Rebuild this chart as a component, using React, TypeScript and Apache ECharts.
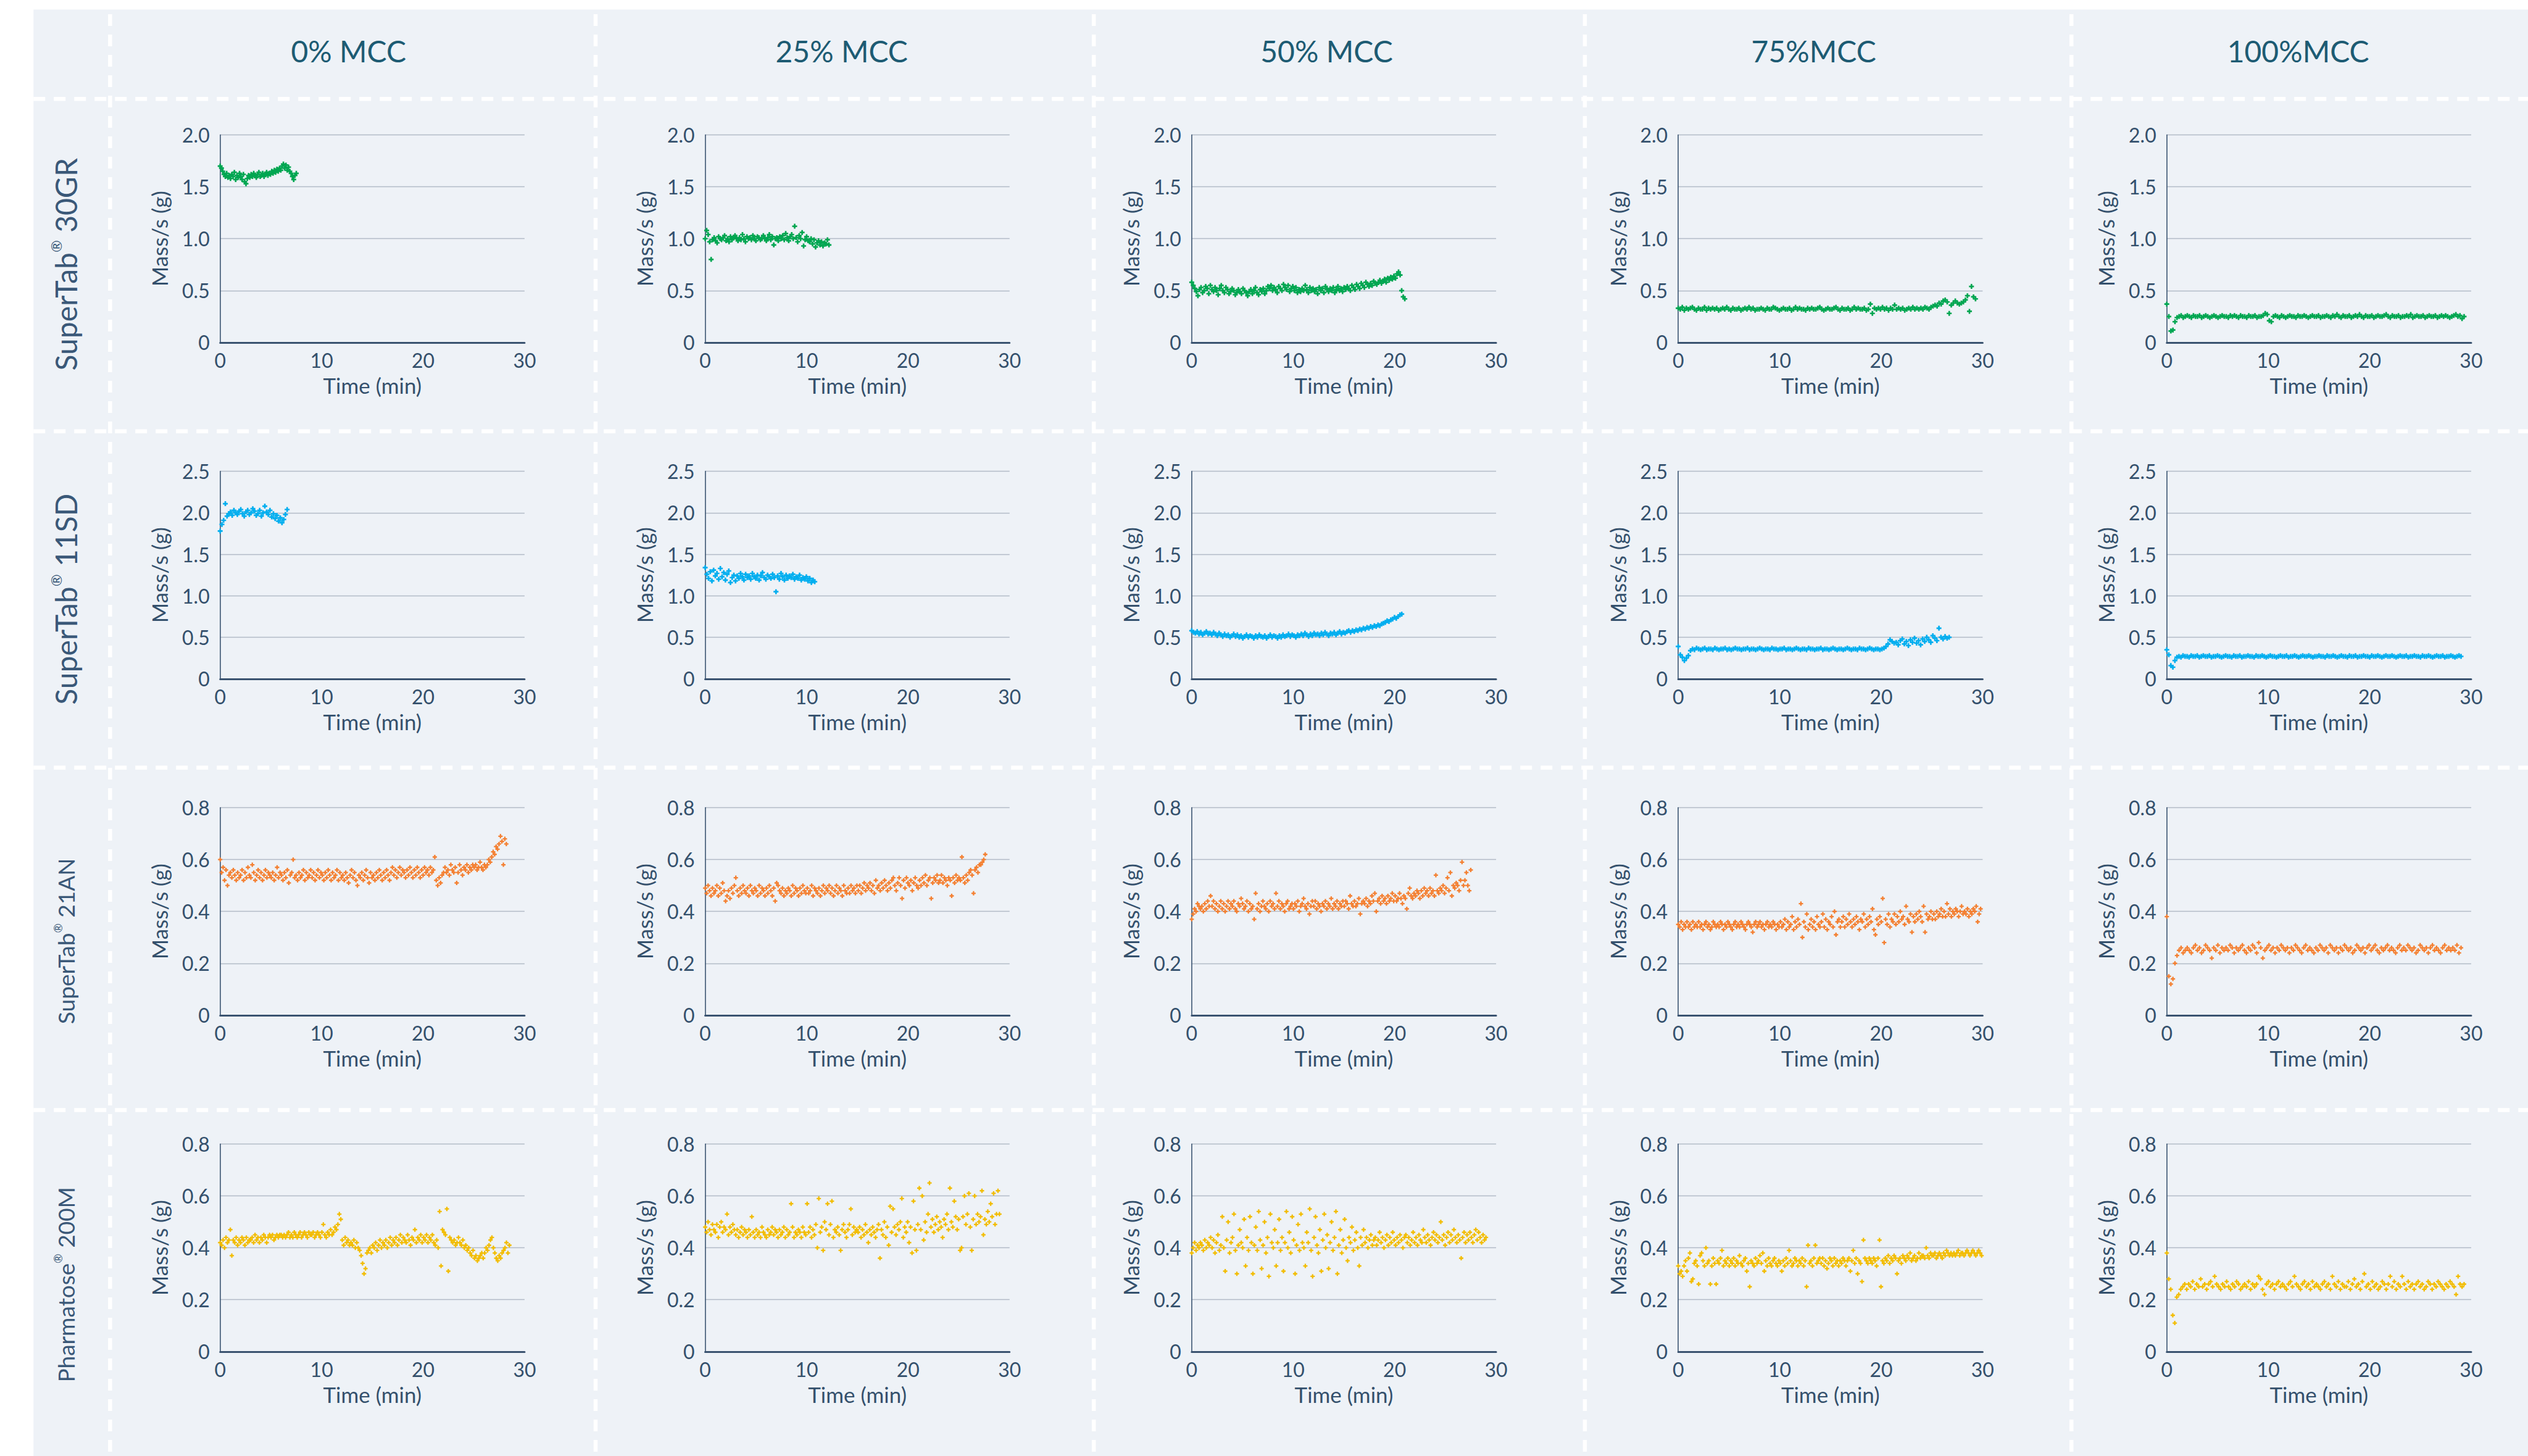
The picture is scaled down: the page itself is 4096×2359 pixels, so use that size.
import React, { useEffect, useRef } from "react";
import * as echarts from "echarts";

// ---------------- data (mass flow in hundredths of g/s, sampled evenly over each run) ----------------
const COL_HEADERS = ["0% MCC", "25% MCC", "50% MCC", "75%MCC", "100%MCC"];
const ROW_NAMES = ["SuperTab", "SuperTab", "SuperTab", "Pharmatose"];
const ROW_GRADES = ["30GR", "11SD", "21AN", "200M"];
const ROW_COLORS = ["#00a651", "#00aeef", "#f47f30", "#f2bc00"];
const Y_MAX = [2.0, 2.5, 0.8, 0.8];
const Y_STEP = [0.5, 0.5, 0.2, 0.2];
const X_MIN = 0;
const X_MAX = 30;
const X_STEP = 10;
// duration of each run (min)
const RUN_END = [
  [7.5, 12.2, 21.0, 29.3, 29.3],
  [6.6, 10.8, 20.7, 26.7, 29.0],
  [28.2, 27.6, 27.5, 29.8, 29.0],
  [28.5, 29.0, 29.0, 29.9, 29.3],
];

const r1c1 = [
  170, 168, 165, 162, 160, 163, 159, 161, 158, 162, 160, 164, 157, 161, 159, 163,
  160, 157, 162, 155, 153, 158, 161, 159, 162, 160, 163, 161, 159, 162, 164, 160,
  161, 163, 160, 162, 164, 161, 163, 162, 165, 163, 166, 164, 167, 165, 168, 166,
  170, 172, 168, 171, 166, 169, 165, 163, 160, 157, 161, 163,
];
const r1c2 = [
  100, 108, 104, 97, 80, 99, 101, 98, 96, 102, 100, 99, 101, 103, 98, 100, 97, 102, 99, 101,
  103, 100, 98, 101, 99, 104, 100, 97, 102, 100, 101, 99, 103, 100, 98, 102, 101, 99, 100, 103,
  100, 98, 101, 104, 99, 102, 94, 100, 101, 98, 102, 100, 103, 99, 105, 101, 98, 102, 104, 100,
  112, 101, 97, 103, 100, 106, 93, 99, 102, 98, 97, 100, 95, 99, 92, 96, 98, 94, 97, 93,
  96, 95, 99, 94,
];
const r1c3 = [
  58, 55, 52, 49, 45, 51, 53, 48, 50, 54, 52, 47, 55, 51, 49, 53, 50, 46, 52, 55,
  50, 48, 53, 51, 47, 49, 52, 50, 46, 48, 51, 49, 47, 52, 50, 48, 45, 49, 51, 47,
  50, 53, 48, 46, 51, 49, 52, 47, 50, 54, 52, 55, 50, 53, 51, 48, 54, 52, 50, 56,
  53, 51, 55, 49, 52, 54, 50, 53, 48, 51, 49, 52, 50, 55, 51, 48, 53, 50, 52, 49,
  51, 47, 53, 50, 52, 48, 54, 51, 49, 52, 50, 53, 48, 51, 54, 50, 52, 49, 53, 51,
  54, 52, 50, 55, 53, 51, 56, 54, 52, 57, 55, 53, 58, 56, 54, 57, 55, 59, 57, 56,
  58, 60, 57, 59, 61, 58, 62, 60, 63, 61, 64, 62, 66, 68, 65, 50, 44, 42,
];
const r1c4 = [
  33, 32, 34, 31, 33, 32, 33, 34, 32, 31, 33, 32, 32, 34, 31, 33, 32, 33, 32, 33,
  31, 32, 33, 32, 34, 32, 31, 33, 32, 32, 33, 31, 32, 33, 32, 34, 32, 33, 31, 32,
  32, 33, 32, 31, 33, 32, 32, 34, 33, 32, 31, 32, 33, 32, 32, 33, 31, 32, 34, 32,
  33, 32, 32, 31, 33, 32, 33, 32, 32, 33, 34, 32, 31, 32, 33, 32, 32, 33, 34, 32,
  31, 33, 32, 32, 33, 31, 32, 34, 32, 33, 32, 32, 33, 31, 32, 37, 28, 33, 32, 33,
  32, 34, 32, 33, 31, 33, 32, 36, 32, 33, 32, 33, 31, 32, 33, 32, 34, 32, 33, 32,
  33, 32, 34, 33, 32, 34, 35, 36, 35, 38, 37, 40, 41, 39, 28, 36, 38, 40, 38, 37,
  38, 39, 41, 45, 30, 54, 44, 42,
];
const r1c5 = [
  37, 25, 11, 12, 20, 24, 25, 26, 24, 25, 26, 25, 24, 26, 25, 25, 26, 24, 25, 26,
  25, 24, 25, 26, 25, 24, 25, 26, 25, 25, 24, 26, 25, 26, 25, 24, 26, 25, 25, 24,
  26, 25, 25, 26, 24, 25, 25, 26, 28, 27, 21, 20, 25, 26, 25, 24, 26, 25, 24, 25,
  26, 25, 25, 24, 26, 25, 25, 26, 25, 24, 25, 26, 25, 25, 26, 24, 25, 25, 26, 25,
  24, 26, 25, 27, 25, 24, 26, 25, 25, 26, 24, 25, 26, 25, 27, 25, 24, 26, 25, 25,
  26, 24, 25, 26, 25, 25, 26, 27, 25, 24, 26, 25, 25, 26, 24, 25, 25, 26, 25, 27,
  24, 25, 26, 25, 25, 26, 24, 25, 26, 25, 25, 26, 24, 25, 26, 25, 26, 25, 24, 25,
  26, 27, 25, 26, 23, 25,
];

const r2c1 = [
  178, 186, 191, 211, 196, 199, 201, 197, 203, 200, 198, 202, 204, 199, 196, 201, 203, 198, 200, 205,
  202, 197, 199, 203, 196, 200, 208, 201, 198, 203, 195, 199, 193, 197, 190, 194, 188, 192, 198, 204,
];
const r2c2 = [
  134, 126, 121, 129, 118, 131, 124, 127, 120, 133, 123, 128, 119, 126, 130, 116, 122, 125, 118, 124,
  121, 127, 123, 119, 126, 122, 124, 120, 127, 123, 121, 125, 119, 124, 128, 122, 120, 125, 123, 121,
  126, 122, 105, 124, 120, 127, 123, 119, 125, 121, 124, 122, 126, 120, 123, 121, 125, 119, 122, 120,
  123, 118, 121, 116, 119, 117,
];
const r2c3 = [
  58, 56, 55, 57, 54, 56, 53, 55, 57, 54, 55, 53, 56, 54, 52, 55, 53, 51, 54, 52,
  53, 50, 52, 54, 51, 53, 50, 52, 49, 51, 53, 50, 52, 51, 49, 52, 50, 53, 51, 50,
  52, 49, 51, 53, 50, 52, 51, 49, 52, 50, 53, 51, 52, 54, 51, 53, 52, 50, 53, 52,
  54, 52, 55, 53, 51, 54, 52, 55, 53, 54, 52, 55, 53, 56, 54, 52, 55, 54, 56, 53,
  55, 57, 54, 56, 55, 57, 58, 56, 58, 57, 59, 58, 60, 59, 61, 60, 62, 61, 63, 62,
  64, 63, 65, 64, 66, 67, 68, 70, 69, 71, 72, 74, 73, 75, 77, 78,
];
const r2c4 = [
  39, 29, 26, 22, 25, 28, 34, 36, 35, 37, 36, 35, 36, 37, 35, 36, 36, 35, 37, 36,
  35, 36, 36, 37, 35, 36, 35, 36, 37, 36, 36, 35, 36, 36, 37, 35, 36, 36, 35, 36,
  37, 36, 35, 36, 36, 35, 37, 36, 36, 35, 36, 36, 37, 35, 36, 36, 35, 36, 37, 36,
  35, 36, 36, 35, 37, 36, 36, 35, 36, 36, 37, 35, 36, 36, 35, 36, 37, 36, 35, 36,
  36, 35, 36, 37, 36, 35, 36, 36, 35, 37, 36, 36, 35, 36, 37, 36, 35, 36, 36, 35,
  36, 37, 39, 42, 47, 45, 43, 44, 41, 46, 48, 42, 45, 40, 47, 44, 49, 43, 46, 41,
  48, 45, 50, 47, 44, 52, 49, 46, 61, 50, 48, 51, 49, 50,
];
const r2c5 = [
  35, 29, 16, 14, 22, 26, 27, 26, 28, 27, 27, 26, 28, 27, 27, 28, 26, 27, 28, 27,
  27, 28, 26, 27, 27, 28, 27, 26, 27, 28, 27, 27, 26, 28, 27, 27, 28, 26, 27, 27,
  28, 27, 27, 26, 28, 27, 27, 28, 27, 26, 27, 28, 27, 27, 26, 27, 28, 27, 27, 28,
  26, 27, 27, 28, 27, 26, 27, 28, 27, 27, 28, 27, 26, 27, 27, 28, 27, 27, 26, 28,
  27, 27, 28, 27, 26, 27, 28, 27, 27, 26, 28, 27, 27, 28, 26, 27, 27, 28, 27, 27,
  26, 28, 27, 27, 28, 27, 26, 27, 28, 27, 27, 28, 27, 26, 27, 28, 27, 27, 28, 26,
  27, 27, 28, 27, 27, 26, 28, 27, 27, 28, 27, 26, 27, 28, 27, 27, 28, 26, 27, 27,
  28, 27, 26, 27, 28, 27,
];

const r3c1 = [
  60, 55, 57, 52, 56, 50, 54, 55, 53, 56, 54, 52, 55, 53, 54, 56, 52, 55, 53, 57, 54,
  53, 58, 55, 52, 54, 56, 53, 55, 52, 54, 56, 53, 55, 54, 53, 55, 52, 54, 57, 53, 55,
  54, 52, 55, 53, 56, 51, 54, 55, 60, 53, 54, 52, 55, 53, 54, 56, 52, 55, 53, 54, 56,
  53, 55, 52, 54, 56, 53, 55, 54, 52, 55, 53, 56, 54, 52, 55, 53, 54, 56, 52, 55, 53,
  54, 52, 55, 53, 51, 54, 56, 53, 55, 52, 50, 54, 53, 55, 52, 54, 56, 53, 51, 55, 53,
  54, 52, 55, 53, 56, 54, 52, 55, 53, 56, 54, 52, 55, 57, 54, 56, 53, 55, 57, 54, 56,
  55, 53, 56, 54, 57, 55, 53, 56, 54, 57, 55, 53, 56, 54, 57, 55, 56, 54, 57, 55, 56,
  61, 52, 50, 53, 51, 54, 55, 57, 55, 56, 54, 58, 56, 55, 57, 51, 55, 58, 56, 54, 57,
  56, 58, 55, 57, 56, 58, 57, 58, 56, 57, 59, 57, 56, 58, 57, 58, 60, 59, 61, 63, 62,
  65, 64, 66, 69, 67, 58, 68, 66,
];
const r3c2 = [
  49, 47, 50, 48, 46, 49, 47, 48, 50, 46, 49, 47, 51, 48, 44, 46, 48, 45, 49, 47, 50,
  53, 48, 46, 49, 47, 50, 48, 47, 49, 46, 50, 48, 47, 49, 48, 46, 50, 47, 49, 48, 46,
  49, 47, 50, 48, 46, 49, 44, 51, 50, 48, 47, 49, 46, 48, 47, 49, 48, 46, 50, 47, 49,
  48, 46, 49, 47, 50, 48, 47, 49, 47, 48, 50, 46, 49, 48, 47, 49, 46, 48, 50, 47, 49,
  48, 50, 47, 49, 46, 48, 50, 47, 49, 48, 46, 50, 48, 47, 49, 47, 50, 48, 49, 47, 50,
  48, 50, 47, 49, 51, 48, 50, 49, 51, 48, 50, 47, 52, 49, 50, 48, 51, 49, 52, 50, 48,
  51, 49, 52, 53, 50, 48, 51, 53, 50, 45, 52, 49, 53, 51, 50, 52, 48, 51, 53, 50, 49,
  52, 50, 53, 51, 54, 50, 52, 53, 45, 51, 53, 52, 54, 51, 52, 54, 51, 53, 52, 50, 53,
  52, 46, 53, 51, 54, 52, 53, 52, 61, 53, 51, 54, 52, 55, 56, 54, 47, 56, 57, 55, 58,
  58, 59, 60, 62,
];
const r3c3 = [
  37, 39, 41, 40, 43, 42, 41, 42, 40, 43, 41, 44, 42, 46, 42, 44, 41, 43, 40, 42, 44,
  41, 43, 40, 42, 44, 41, 43, 42, 44, 41, 40, 43, 42, 45, 43, 41, 42, 44, 40, 43, 41,
  42, 37, 47, 41, 43, 40, 42, 44, 42, 41, 43, 40, 44, 42, 43, 41, 47, 42, 44, 41, 43,
  42, 40, 43, 44, 41, 42, 43, 41, 43, 42, 44, 40, 42, 43, 45, 42, 41, 43, 39, 42, 44,
  42, 44, 41, 43, 42, 40, 43, 42, 44, 41, 43, 42, 45, 41, 43, 42, 44, 41, 43, 42, 44,
  42, 44, 43, 41, 46, 43, 42, 44, 42, 43, 45, 39, 43, 44, 43, 45, 42, 44, 43, 46, 44,
  47, 40, 44, 45, 43, 46, 44, 45, 43, 46, 44, 45, 47, 44, 46, 44, 45, 47, 45, 43, 46,
  45, 41, 47, 49, 46, 45, 47, 46, 48, 47, 45, 48, 46, 49, 47, 48, 46, 49, 47, 48, 46,
  54, 48, 47, 49, 48, 50, 47, 49, 53, 48, 55, 46, 50, 49, 51, 50, 48, 52, 59, 50, 52,
  55, 50, 48, 56,
];
const r3c4 = [
  35, 34, 36, 33, 35, 34, 36, 34, 35, 33, 36, 34, 35, 34, 36, 34, 35, 33, 35, 36, 34,
  35, 33, 34, 36, 35, 34, 35, 34, 36, 35, 33, 35, 34, 36, 35, 34, 33, 35, 36, 34, 35,
  34, 36, 35, 34, 33, 35, 36, 35, 34, 32, 35, 36, 34, 35, 36, 34, 35, 33, 35, 36, 34,
  35, 34, 36, 35, 33, 35, 34, 36, 34, 35, 37, 33, 36, 34, 35, 38, 33, 36, 34, 37, 35,
  43, 30, 36, 34, 39, 33, 35, 37, 34, 36, 33, 38, 35, 34, 36, 39, 34, 37, 33, 36, 35,
  38, 34, 40, 31, 36, 37, 34, 36, 38, 34, 37, 35, 39, 36, 34, 37, 35, 38, 36, 33, 37,
  36, 39, 34, 37, 35, 38, 36, 41, 33, 31, 37, 35, 38, 36, 45, 28, 37, 35, 39, 34, 37,
  36, 39, 35, 38, 36, 40, 37, 38, 35, 42, 37, 36, 39, 32, 38, 36, 39, 37, 40, 38, 36,
  42, 32, 39, 37, 38, 40, 37, 39, 37, 40, 38, 39, 41, 38, 40, 38, 43, 39, 41, 38, 40,
  39, 41, 40, 38, 40, 42, 39, 40, 39, 41, 38, 40, 39, 41, 40, 42, 36, 39, 41,
];
const r3c5 = [
  38, 15, 12, 14, 20, 23, 25, 26, 24, 25, 26, 25, 24, 26, 27, 25, 26, 24, 25, 27,
  26, 25, 22, 26, 25, 27, 24, 26, 25, 26, 25, 27, 26, 24, 26, 25, 26, 27, 25, 24,
  26, 25, 27, 26, 24, 28, 26, 22, 25, 26, 27, 25, 26, 24, 26, 25, 27, 26, 25, 26,
  24, 26, 25, 27, 26, 25, 24, 26, 27, 25, 26, 25, 24, 26, 25, 27, 26, 25, 26, 24,
  27, 26, 25, 26, 24, 26, 25, 27, 26, 25, 26, 24, 25, 27, 26, 25, 26, 24, 26, 27,
  25, 26, 27, 25, 24, 26, 25, 26, 27, 25, 26, 25, 24, 26, 27, 25, 26, 25, 27, 26,
  25, 26, 24, 25, 27, 26, 25, 26, 24, 26, 27, 25, 26, 25, 24, 26, 27, 25, 26, 25,
  26, 25, 27, 24, 26,
];

const r4c1 = [
  42, 41, 43, 40, 44, 42, 43, 47, 37, 43, 42, 44, 41, 43, 42, 44, 43, 41, 44, 42, 43,
  43, 44, 42, 45, 43, 44, 42, 44, 43, 45, 44, 42, 44, 45, 44, 45, 43, 44, 45, 44, 45,
  45, 44, 45, 44, 45, 46, 44, 45, 44, 46, 45, 44, 45, 46, 44, 45, 46, 45, 44, 46, 45,
  45, 46, 44, 45, 46, 45, 44, 46, 49, 45, 44, 46, 45, 47, 45, 46, 48, 47, 49, 53, 51,
  43, 41, 44, 42, 43, 41, 42, 41, 43, 40, 42, 40, 39, 37, 34, 30, 32, 38, 39, 40, 38,
  41, 40, 42, 39, 41, 43, 40, 42, 41, 43, 40, 42, 44, 41, 43, 42, 44, 41, 43, 45, 42,
  44, 43, 42, 45, 43, 41, 44, 43, 47, 42, 44, 43, 45, 42, 44, 43, 45, 42, 44, 43, 45,
  42, 41, 43, 40, 54, 33, 47, 46, 45, 55, 31, 44, 43, 42, 43, 41, 42, 44, 42, 41, 43,
  40, 41, 39, 40, 38, 37, 39, 36, 37, 35, 36, 37, 38, 36, 38, 40, 39, 41, 43, 44, 40,
  38, 36, 35, 37, 36, 38, 39, 40, 42, 38, 41,
];
const r4c2 = [
  48, 46, 50, 47, 45, 49, 47, 46, 49, 44, 48, 50, 46, 48, 47, 53, 45, 48, 46, 49, 47,
  45, 47, 44, 46, 48, 45, 47, 46, 44, 47, 45, 52, 46, 44, 47, 45, 46, 44, 48, 46, 45,
  44, 47, 45, 46, 48, 45, 47, 46, 44, 47, 45, 46, 48, 44, 47, 45, 46, 57, 48, 44, 46,
  45, 47, 46, 44, 48, 46, 45, 57, 46, 48, 44, 47, 45, 49, 40, 59, 46, 48, 39, 50, 47,
  57, 45, 49, 58, 44, 47, 46, 48, 45, 39, 47, 49, 46, 44, 47, 49, 55, 45, 48, 46, 47,
  46, 48, 44, 47, 45, 49, 46, 42, 47, 45, 48, 46, 44, 47, 49, 36, 47, 45, 50, 44, 48,
  41, 56, 46, 55, 48, 45, 49, 47, 50, 59, 44, 48, 46, 50, 42, 48, 38, 58, 47, 39, 49,
  63, 47, 60, 43, 50, 46, 53, 65, 48, 51, 46, 49, 52, 47, 50, 48, 44, 51, 49, 53, 47,
  63, 50, 48, 58, 52, 47, 51, 39, 40, 52, 60, 49, 53, 61, 48, 39, 51, 60, 49, 53, 50,
  52, 62, 45, 51, 49, 54, 50, 57, 52, 61, 49, 53, 62, 53,
];
const r4c3 = [
  38, 40, 42, 39, 41, 40, 42, 41, 39, 43, 40, 42, 41, 44, 40, 43, 38, 42, 45, 39, 41,
  52, 40, 31, 43, 50, 38, 42, 44, 53, 39, 30, 41, 47, 42, 40, 51, 33, 44, 39, 52, 42,
  30, 41, 48, 39, 54, 43, 32, 41, 50, 38, 44, 29, 53, 42, 40, 47, 33, 42, 51, 39, 44,
  31, 42, 54, 40, 46, 38, 52, 43, 30, 41, 49, 39, 53, 42, 40, 33, 46, 42, 55, 39, 29,
  44, 52, 41, 38, 47, 31, 43, 53, 40, 45, 32, 42, 50, 39, 44, 54, 30, 41, 47, 38, 43,
  51, 40, 35, 44, 42, 48, 39, 43, 46, 40, 33, 44, 41, 47, 42, 44, 40, 43, 45, 41, 43,
  44, 41, 43, 46, 42, 44, 40, 43, 45, 41, 44, 42, 46, 43, 41, 44, 42, 45, 43, 40, 44,
  45, 42, 44, 41, 43, 46, 42, 44, 41, 45, 43, 42, 47, 44, 42, 45, 43, 41, 44, 46, 43,
  45, 42, 44, 50, 43, 45, 41, 44, 46, 42, 45, 43, 47, 44, 42, 45, 43, 36, 44, 46, 42,
  45, 43, 46, 44, 42, 45, 47, 43, 46, 44, 42, 45, 43, 44,
];
const r4c4 = [
  33, 30, 31, 29, 33, 35, 31, 36, 38, 27, 28, 34, 35, 33, 26, 37, 38, 35, 33, 40, 34,
  35, 26, 33, 36, 34, 26, 35, 34, 36, 39, 33, 35, 34, 36, 33, 35, 34, 36, 33, 35, 34,
  37, 34, 33, 35, 36, 31, 34, 25, 35, 34, 33, 36, 34, 35, 37, 34, 38, 31, 35, 33, 36,
  34, 33, 35, 36, 34, 33, 35, 34, 31, 35, 33, 36, 34, 39, 35, 33, 34, 36, 35, 33, 35,
  34, 36, 33, 35, 25, 41, 34, 35, 33, 36, 41, 34, 35, 36, 34, 36, 33, 35, 32, 34, 36,
  35, 33, 36, 34, 35, 33, 35, 34, 36, 35, 33, 35, 36, 31, 35, 39, 34, 36, 30, 35, 34,
  27, 43, 36, 35, 34, 36, 35, 34, 36, 35, 33, 36, 43, 25, 35, 34, 36, 35, 37, 34, 36,
  35, 37, 36, 30, 35, 36, 34, 37, 36, 35, 37, 36, 38, 35, 36, 37, 35, 36, 38, 36, 37,
  37, 36, 40, 37, 36, 38, 37, 37, 38, 36, 37, 38, 37, 36, 38, 37, 39, 38, 37, 38, 37,
  38, 37, 38, 39, 37, 38, 38, 37, 38, 39, 38, 37, 38, 39, 38, 37, 38, 39, 38, 37,
];
const r4c5 = [
  38, 28, 24, 14, 11, 21, 22, 24, 25, 26, 24, 26, 25, 27, 24, 26, 25, 28, 25, 26,
  24, 26, 27, 25, 29, 26, 25, 24, 26, 25, 27, 25, 24, 26, 25, 27, 26, 24, 25, 26,
  25, 27, 24, 26, 25, 26, 29, 28, 24, 22, 26, 27, 25, 26, 24, 26, 27, 25, 26, 25,
  24, 26, 27, 25, 29, 26, 25, 24, 26, 27, 25, 26, 24, 27, 25, 26, 25, 24, 26, 27,
  25, 26, 24, 29, 26, 25, 27, 24, 26, 25, 25, 27, 24, 26, 28, 25, 26, 24, 27, 30,
  25, 26, 24, 27, 25, 26, 24, 25, 27, 26, 24, 26, 29, 25, 27, 24, 26, 25, 29, 26,
  24, 27, 25, 26, 24, 26, 27, 25, 26, 24, 25, 27, 26, 24, 26, 25, 27, 26, 25, 24,
  26, 25, 27, 26, 25, 22, 29, 26, 25, 26,
];

const PANELS = [
  [r1c1, r1c2, r1c3, r1c4, r1c5],
  [r2c1, r2c2, r2c3, r2c4, r2c5],
  [r3c1, r3c2, r3c3, r3c4, r3c5],
  [r4c1, r4c2, r4c3, r4c4, r4c5],
];

// ---------------- layout (reference pixels, scaled to window) ----------------
const W = 4096;
const H = 2359;
const S = 4096 / 4983;
const GRID_LEFT = [434, 1390, 2349, 3308, 4271];
const GRID_TOP = [266, 929, 1592, 2255];
const GRID_W = 600;
const GRID_H = 409;
const V_DASH_X = [217, 1174, 2156, 3124, 4083];
const H_DASH_Y = [195, 850, 1513, 2188];
const HEADER_X = [687, 1659, 2615, 3575, 4530];
const HEADER_Y = 100;
const ROW_LABEL_X = 130;
const ROW_LABEL_Y = [521, 1181, 1855, 2532];
const ROW_LABEL_SIZE = [48, 48, 37, 37];
const SYMBOL_SIZE = [8, 8, 7, 7];

const FONT = "Lato, 'Open Sans', sans-serif";
const TEXT = "#34506c";
const AXIS = "#3a5370";
const GRIDLINE = "#b2bbc7";
const PLUS = "path://M2,0L4,0L4,2L6,2L6,4L4,4L4,6L2,6L2,4L0,4L0,2L2,2Z";

function buildOption() {
  const grids: any[] = [];
  const xAxes: any[] = [];
  const yAxes: any[] = [];
  const series: any[] = [];
  let idx = 0;
  for (let r = 0; r < 4; r++) {
    for (let c = 0; c < 5; c++) {
      grids.push({
        left: GRID_LEFT[c] * S,
        top: GRID_TOP[r] * S,
        width: GRID_W * S,
        height: GRID_H * S,
        containLabel: false,
      });
      xAxes.push({
        type: "value",
        gridIndex: idx,
        min: X_MIN,
        max: X_MAX,
        interval: X_STEP,
        axisLine: { show: true, onZero: false, lineStyle: { color: AXIS, width: 3 } },
        axisTick: { show: false },
        splitLine: { show: false },
        axisLabel: { color: TEXT, fontSize: 32, fontFamily: FONT, margin: 13 },
        name: "Time (min)",
        nameLocation: "middle",
        nameGap: 52,
        nameTextStyle: { color: TEXT, fontSize: 35, fontFamily: FONT },
      });
      yAxes.push({
        type: "value",
        gridIndex: idx,
        min: 0,
        max: Y_MAX[r],
        interval: Y_STEP[r],
        axisLine: { show: true, lineStyle: { color: AXIS, width: 1.6 } },
        axisTick: { show: false },
        splitLine: { show: true, lineStyle: { color: GRIDLINE, width: 1.3 } },
        axisLabel: {
          color: TEXT,
          fontSize: 32,
          fontFamily: FONT,
          margin: 17,
          formatter: (v: number) => (v === 0 ? "0" : v.toFixed(1)),
        },
        name: "Mass/s (g)",
        nameLocation: "middle",
        nameGap: 81,
        nameTextStyle: { color: TEXT, fontSize: 35, fontFamily: FONT },
      });
      const vals = PANELS[r][c];
      const end = RUN_END[r][c];
      const n = vals.length;
      series.push({
        type: "scatter",
        xAxisIndex: idx,
        yAxisIndex: idx,
        symbol: PLUS,
        symbolSize: SYMBOL_SIZE[r],
        silent: true,
        itemStyle: { color: ROW_COLORS[r], opacity: 1 },
        data: vals.map((v, k) => [(end * k) / (n - 1), v / 100]),
      });
      idx++;
    }
  }

  const graphics: any[] = [];
  graphics.push({
    type: "rect",
    z: -10,
    shape: { x: 66 * S, y: 19 * S, width: (4983 - 66) * S, height: (2870 - 19) * S },
    style: { fill: "#eef2f7" },
  });
  V_DASH_X.forEach((x) =>
    graphics.push({
      type: "line",
      z: -9,
      shape: { x1: x * S, y1: 28 * S, x2: x * S, y2: 2870 * S },
      style: { stroke: "#ffffff", lineWidth: 6.5, lineDash: [19, 14] },
    })
  );
  H_DASH_Y.forEach((y) =>
    graphics.push({
      type: "line",
      z: -9,
      shape: { x1: 66 * S, y1: y * S, x2: 4983 * S, y2: y * S },
      style: { stroke: "#ffffff", lineWidth: 6.5, lineDash: [19, 14] },
    })
  );
  COL_HEADERS.forEach((t, c) =>
    graphics.push({
      type: "text",
      x: HEADER_X[c] * S,
      y: HEADER_Y * S,
      style: {
        text: t,
        fill: "#1d5b73",
        fontSize: 48,
        fontFamily: FONT,
        align: "center",
        verticalAlign: "middle",
      },
    })
  );
  ROW_NAMES.forEach((name, r) => {
    const fs = ROW_LABEL_SIZE[r];
    graphics.push({
      type: "text",
      x: ROW_LABEL_X * S,
      y: ROW_LABEL_Y[r] * S,
      rotation: Math.PI / 2,
      style: {
        text: `{a|${name}}{r|®}{a| ${ROW_GRADES[r]}}`,
        align: "center",
        verticalAlign: "middle",
        fill: "#3a5878",
        rich: {
          a: { fontSize: fs, fontFamily: FONT, fill: "#3a5878", lineHeight: fs * 1.2 },
          r: {
            fontSize: fs * 0.5,
            fontFamily: FONT,
            fill: "#3a5878",
            lineHeight: fs * 0.75,
            verticalAlign: "top",
          },
        },
      },
    });
  });

  return {
    animation: false,
    backgroundColor: "#ffffff",
    grid: grids,
    xAxis: xAxes,
    yAxis: yAxes,
    series,
    graphic: { elements: graphics },
  };
}

export default function App() {
  const ref = useRef<HTMLDivElement>(null);
  useEffect(() => {
    document.body.style.margin = "0";
    const chart = echarts.init(ref.current as HTMLDivElement, undefined, { renderer: "svg" });
    chart.setOption(buildOption() as any);
    return () => chart.dispose();
  }, []);
  return <div ref={ref} style={{ width: W, height: H }} />;
}
